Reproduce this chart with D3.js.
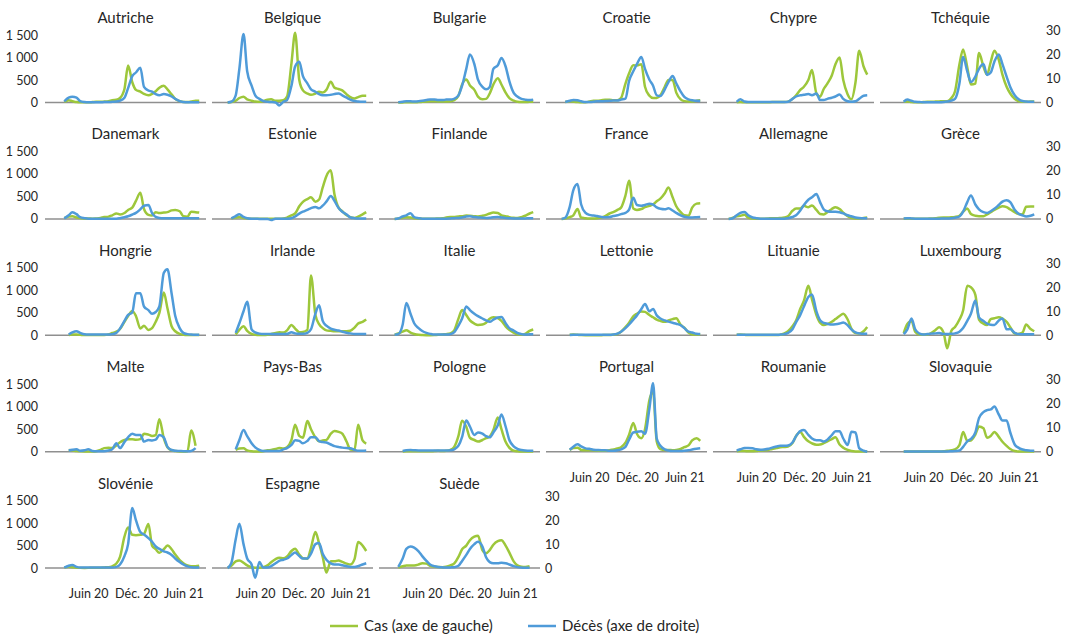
<!DOCTYPE html>
<html lang="fr">
<head>
<meta charset="utf-8">
<script src="https://cdn.jsdelivr.net/npm/d3@7"></script>
<style>
  html, body { margin: 0; padding: 0; background: #fff; }
  svg { display: block; font-family: Lato, "Noto Sans", sans-serif; }
</style>
</head>
<body>
<svg id="chart" width="1069" height="636"></svg>
<script>
// Semi-monthly observation dates (7-day averages, per million inhabitants)
const dates = ["2020-03-01","2020-03-15","2020-04-01","2020-04-15","2020-05-01","2020-05-15",
  "2020-06-01","2020-06-15","2020-07-01","2020-07-15","2020-08-01","2020-08-15",
  "2020-09-01","2020-09-15","2020-10-01","2020-10-15","2020-11-01","2020-11-15",
  "2020-12-01","2020-12-15","2021-01-01","2021-01-15","2021-02-01","2021-02-15",
  "2021-03-01","2021-03-15","2021-04-01","2021-04-15","2021-05-01","2021-05-15",
  "2021-06-01","2021-06-15","2021-07-01","2021-07-15","2021-08-01","2021-08-15"];

const casTicks = [0, 500, 1000, 1500];
const casTickLabels = ["0", "500", "1 000", "1 500"];
const decesTicks = [0, 10, 20, 30];
const decesTickLabels = ["0", "10", "20", "30"];
const xTickDates = ["2020-06-15", "2020-12-15", "2021-06-15"];
const xTickLabels = ["Juin 20", "Déc. 20", "Juin 21"];
const legendLabels = ["Cas (axe de gauche)", "Décès (axe de droite)"];

// Cases (left axis) and deaths (right axis) per country
const autricheCas = [null,10,50,30,10,5,5,5,10,15,15,20,30,50,60,100,300,820,450,280,240,190,160,190,250,330,370,290,180,80,30,10,10,20,40,40];
const autricheDeces = [null,0.5,2,2.4,2,0.6,0.2,0.1,0.1,0.1,0.1,0.2,0.2,0.3,0.4,0.8,2,6,11,12.5,14.5,6.5,5,4.5,3.5,3,3.5,3.2,2.5,1.5,0.6,0.2,0.1,0.1,0.1,0.1];
const belgiqueCas = [0,10,40,100,130,70,40,20,15,30,60,70,40,40,50,130,870,1550,500,270,200,170,200,240,220,280,460,330,300,270,180,120,90,120,150,150];
const belgiqueDeces = [0,0.3,3,14,28.5,13,7,3,1.5,0.7,0.3,0.2,0,-1.2,0.3,1,7,15,17,11,8,5.5,4.5,3.5,3,3,3.2,3.5,3.8,3,2,1.2,0.6,0.4,0.3,0.3];
const bulgarieCas = [null,0,2,5,5,5,10,15,20,30,30,20,20,20,25,50,150,400,510,380,280,130,70,80,200,400,540,400,220,100,40,15,10,10,15,15];
const bulgarieDeces = [null,0.1,0.3,0.5,0.5,0.4,0.5,0.7,1,1.3,1.3,1,1,1.2,1.2,1.5,3,7,14,20,16,9.5,6.5,5.5,6.5,14,15.5,18.5,15,9,4,2.5,1.5,1.2,1,1.2];
const croatieCas = [null,10,30,20,10,5,5,20,40,40,50,60,60,50,50,100,420,650,830,820,850,350,150,100,100,160,350,500,500,220,70,30,20,20,40,50];
const croatieDeces = [null,0.2,0.7,1,0.9,0.5,0.2,0.2,0.3,0.5,0.5,0.6,0.7,0.8,0.8,1.2,1.6,9,13,16,19,14,9.5,7,3,2.7,5.5,8.5,11,8,4.5,2.3,1.3,0.9,0.7,0.6];
const chypreCas = [null,null,5,10,5,3,3,3,3,3,5,10,10,10,10,20,80,160,280,350,500,720,200,130,300,420,600,850,1000,500,180,70,450,1150,800,620];
const chypreDeces = [null,null,0.3,1.4,0.4,0.2,0.2,0.2,0.2,0.2,0.2,0.2,0.2,0.2,0.2,0.3,1.5,2.5,3,3.2,3.5,3,3.8,1,1,1.5,2,2.5,3.3,1.5,0.5,0.3,0.5,1.5,2.8,3];
const tchequieCas = [null,null,15,25,10,5,5,10,15,15,20,25,30,30,100,250,850,1180,780,400,420,1100,800,620,900,1150,950,620,350,200,80,30,15,15,20,20];
const tchequieDeces = [null,null,0.3,1.2,0.7,0.3,0.2,0.1,0.1,0.1,0.1,0.1,0.2,0.4,0.8,1.5,8,19,13,8.5,10.8,14,16,11.5,12.5,17,20,16,10.8,6.5,3,1.5,0.6,0.4,0.3,0.3];
const danemarkCas = [null,20,50,60,30,20,10,10,5,10,20,40,50,80,120,100,130,200,250,400,580,220,90,75,150,130,140,150,190,200,170,60,50,160,150,140];
const danemarkDeces = [null,0.2,1.5,2.8,2,0.7,0.3,0.1,0.1,0.1,0.1,0.1,0.1,0.1,0.1,0.3,0.7,1.1,1.8,2.5,4,5.5,5.8,2.4,0.8,0.4,0.3,0.3,0.3,0.3,0.3,0.3,0.3,0.3,0.3,0.3];
const estonieCas = [null,10,30,40,20,10,5,5,5,5,5,5,5,5,10,30,80,120,280,380,440,480,380,430,700,950,1080,550,250,170,80,40,20,50,100,150];
const estonieDeces = [null,0.2,1.2,1.9,0.8,0.3,0.1,0.1,0,0,0,-0.5,0.1,0.1,0.1,0.1,0.3,1,2.2,3,3.8,4.5,5,4.4,5.5,7.2,9.5,7.5,4.5,3,1.8,0.6,0.3,0.2,0.2,0.2];
const finlandeCas = [0,10,25,35,30,15,10,5,3,3,5,10,15,30,40,45,55,60,75,70,60,55,70,90,120,140,130,80,60,40,25,20,40,70,120,150];
const finlandeDeces = [0,0.2,1,1.5,2.4,0.7,0.3,0.1,0.1,0.1,0.1,0.1,0.1,0.1,0.2,0.3,0.4,0.6,1,1.1,0.8,0.6,0.5,0.4,0.5,0.7,0.8,0.6,0.4,0.3,0.2,0.2,0.2,0.2,0.3,0.3];
const franceCas = [0,10,40,80,220,30,15,10,10,15,30,60,120,150,200,250,520,850,230,200,220,260,290,320,390,450,570,700,480,280,150,80,70,250,340,350];
const franceDeces = [0,0.5,5,12,14.5,6,2.5,1.7,1.4,1.2,0.8,0.7,0.8,1.2,1.5,2,2.5,3.9,8.8,5.8,5.5,5.8,6.3,6,4.8,4.2,4,4.4,3.5,2.5,1.5,0.9,0.6,0.6,0.7,0.8];
const allemagneCas = [0,20,60,70,90,30,8,5,5,6,10,15,15,20,30,60,180,230,230,290,260,300,200,110,100,150,220,260,220,140,60,20,10,10,20,30];
const allemagneDeces = [0,0.2,1.5,2.5,2.9,1.5,0.6,0.3,0.1,0.1,0.1,0.1,0.1,0.1,0.1,0.3,0.8,1.5,3.5,5.8,8,9,10.4,7,4,3.2,3,3,2.8,2.3,1.5,1.1,0.6,0.4,0.3,0.3];
const greceCas = [null,null,5,8,5,3,3,3,5,10,15,25,30,30,35,45,70,160,230,110,70,60,60,100,150,200,250,280,260,210,150,110,100,270,275,275];
const greceDeces = [null,null,0.2,0.3,0.2,0.1,0.1,0.1,0.1,0.1,0.1,0.1,0.2,0.2,0.3,0.5,1,3,7,9.8,6,4,2.8,2.5,3.2,4.2,5.8,7.2,7.8,7,3.8,2.3,1.5,1,1.3,1.9];
const hongrieCas = [null,null,5,15,15,10,5,5,5,5,5,5,20,50,80,140,300,430,540,430,150,210,120,160,300,500,950,600,200,90,30,10,5,5,5,5];
const hongrieDeces = [null,null,0.3,1.2,1.7,1,0.4,0.3,0.3,0.3,0.3,0.3,0.3,0.5,1,2.8,6,8.5,9.5,17.5,17.5,12,10.5,9,9.7,12,26,27.5,17.4,8,3,1,0.5,0.3,0.2,0.2];
const irlandeCas = [null,null,20,120,200,100,30,10,5,5,10,30,50,70,60,110,230,150,70,75,120,1330,450,250,160,110,100,90,90,90,90,100,170,260,300,350];
const irlandeDeces = [null,null,1,5,10,14,2.5,1.2,0.7,0.5,0.5,0.5,0.5,0.5,0.5,0.6,1.3,0.8,0.6,0.6,1,2.5,9,12.5,6,4,2.8,2.3,2,1.5,1.1,0.8,0.5,0.5,0.5,0.5];
const italieCas = [10,40,80,110,60,30,10,5,3,3,5,10,20,25,40,100,370,560,450,330,260,230,240,280,370,400,380,320,200,120,60,25,15,30,100,130];
const italieDeces = [0.2,0.5,4.5,13.5,9,5,3,1.8,1,0.6,0.3,0.3,0.3,0.3,0.5,1.2,4,7,12,10.5,9,8,7,6.2,5.6,6.5,7.4,7.6,5,3,2,1,0.5,0.3,0.4,0.4];
const lettonieCas = [null,null,10,15,10,5,3,3,3,3,3,5,5,15,30,80,180,280,420,480,530,520,450,400,350,320,300,330,360,380,230,170,60,20,20,20];
const lettonieDeces = [null,null,0.1,0.2,0.2,0.2,0.2,0.2,0.2,0.2,0.2,0.2,0.2,0.3,0.7,1.5,3,4.5,6.5,8.3,11,13,10,11,8.3,7,6.2,5.7,5.2,4.8,4.2,3,1.5,1.2,0.6,0.5];
const lituanieCas = [null,null,10,15,10,5,5,5,5,5,5,5,5,10,40,90,200,330,590,770,1100,800,450,280,230,250,300,360,430,480,350,150,50,40,90,185];
const lituanieDeces = [null,null,0.2,0.2,0.2,0.2,0.2,0.2,0.2,0.2,0.2,0.2,0.2,0.3,0.5,1,2.5,5.5,8.5,12,16,17,10,6.3,5.2,4.8,4.5,4.6,4.9,5.3,4.2,2.5,1.2,0.8,0.6,0.6];
const luxembourgCas = [null,null,50,250,320,80,15,20,20,50,120,180,60,-290,100,185,350,550,1100,1070,900,350,260,230,360,380,400,370,300,180,40,30,60,240,140,90];
const luxembourgDeces = [null,null,0.5,2.5,7,2.5,0.7,0.3,0.5,0.7,0.8,1,0.5,0.5,0.6,0.8,1.5,3,6,9,14.5,7.5,6,4.9,4.4,4.3,6.2,7,2.5,2.6,1,0.5,0.4,0.4,0.4,0.4];
const malteCas = [null,null,40,30,15,10,5,5,5,10,40,80,90,80,140,210,260,275,275,265,280,400,380,350,370,720,300,100,30,15,5,5,10,470,130,null];
const malteDeces = [null,null,0.5,0.8,1,0.4,0.6,1,0.3,0.2,0.2,0.2,0.5,1,3.5,1.5,4,6,7.5,7,7,4.2,4.9,4.7,5,7,6,2,0.7,0.4,0.3,0.2,0.2,0.3,1.5,null];
const paysBasCas = [null,null,40,70,75,30,10,5,5,10,30,40,60,80,70,100,260,600,350,310,680,500,320,230,250,260,400,460,440,400,220,50,40,600,250,180];
const paysBasDeces = [null,null,1,4.9,9,6.5,3.5,1.8,0.7,0.3,0.3,0.3,0.3,0.3,1,1.5,2.8,4.8,4.5,3.5,4.5,6,6,4.4,4,3.8,3,2.3,2,1.7,1.5,1.4,0.8,0.4,0.4,0.5];
const pologneCas = [null,null,5,10,10,10,10,10,8,8,15,20,15,20,40,100,350,690,555,310,260,225,260,300,335,480,760,500,220,90,20,10,5,5,5,5];
const pologneDeces = [null,null,0.3,0.6,0.7,0.6,0.5,0.5,0.5,0.5,0.5,0.5,0.5,0.5,0.6,1,2.5,6.2,13,10.5,7,8,7.5,6.5,6,8,11,15.5,10.5,5,2.2,1.2,0.7,0.5,0.4,0.4];
const portugalCas = [null,null,40,80,90,40,30,35,30,25,20,20,30,50,70,100,200,380,640,400,300,500,1150,1340,230,60,40,40,35,40,60,100,140,250,300,240];
const portugalDeces = [null,null,0.8,2.1,3.1,2.2,1.4,1.2,0.8,0.7,0.6,0.6,0.4,0.4,0.6,1,2,5,8,8.3,8.5,7.5,18,28.5,5.5,2.5,1,0.5,0.3,0.3,0.3,0.4,0.6,0.9,1.2,1.4];
const roumanieCas = [null,null,10,15,15,10,12,15,25,30,40,60,80,100,105,115,190,350,440,330,230,185,155,160,190,230,280,320,160,90,40,15,5,5,5,5];
const roumanieDeces = [null,null,0.5,1,1.5,1.5,1.4,1,0.8,0.9,1.2,1.7,2.2,2.5,2.5,2.6,3.8,6.5,8.6,9,7,5.5,4.8,4.8,4.2,5,6.9,8.5,8.5,5.5,2.8,8.3,8,1.5,0.4,0];
const slovaquieCas = [null,null,5,5,5,5,5,5,5,5,5,5,10,20,30,50,150,440,240,250,380,560,520,310,350,440,330,220,130,60,15,5,3,3,3,3];
const slovaquieDeces = [null,null,0.1,0.1,0.1,0.1,0.1,0.1,0.1,0.1,0.1,0.1,0.1,0.1,0.2,0.3,0.5,2,4.3,5.3,8,14,16.5,17.3,17.6,18.8,15.5,13,13,8,3,1.7,0.9,0.6,0.4,0.4];
const slovenieCas = [null,10,30,20,10,5,3,5,10,10,10,15,20,40,100,250,700,900,740,730,740,760,980,500,420,340,420,500,420,300,180,110,60,40,40,50];
const slovenieDeces = [null,0.2,1,1.3,0.5,0.2,0.2,0.2,0.2,0.2,0.2,0.2,0.2,0.2,0.5,1.5,5,10,25,20,15,14,12.5,11,9,8,7,6.5,5.5,4,2.5,1.5,0.7,0.4,0.3,0.3];
const espagneCas = [10,50,150,170,120,60,20,10,10,20,60,130,200,230,220,260,380,430,300,220,210,450,800,550,250,-100,150,150,170,140,100,80,200,580,500,380];
const espagneDeces = [0,2,12,18.5,10,4,1.5,-4,2.5,0.3,0.3,0.8,2,3,3.5,4,5.5,6.5,5,4,4,6,10,10.5,6,3.5,2,1.5,1.5,1.2,0.8,0.5,0.5,0.8,1.5,2];
const suedeCas = [null,10,40,60,60,60,80,110,100,50,30,25,20,30,60,100,250,420,500,620,700,720,400,330,400,520,600,620,500,350,150,60,30,25,40,null];
const suedeDeces = [null,0.5,4,8,9,8.5,7,5,3,1.5,0.8,0.5,0.3,0.2,0.3,0.4,1,3,5.5,8,10,11,9,4.5,2.5,2,2,2.2,2,1.5,0.8,0.4,0.2,0.1,0.1,null];

// One row per small multiple, in reading order
const panels = [
  ["Autriche", autricheCas, autricheDeces], ["Belgique", belgiqueCas, belgiqueDeces],
  ["Bulgarie", bulgarieCas, bulgarieDeces], ["Croatie", croatieCas, croatieDeces],
  ["Chypre", chypreCas, chypreDeces], ["Tchéquie", tchequieCas, tchequieDeces],
  ["Danemark", danemarkCas, danemarkDeces], ["Estonie", estonieCas, estonieDeces],
  ["Finlande", finlandeCas, finlandeDeces], ["France", franceCas, franceDeces],
  ["Allemagne", allemagneCas, allemagneDeces], ["Grèce", greceCas, greceDeces],
  ["Hongrie", hongrieCas, hongrieDeces], ["Irlande", irlandeCas, irlandeDeces],
  ["Italie", italieCas, italieDeces], ["Lettonie", lettonieCas, lettonieDeces],
  ["Lituanie", lituanieCas, lituanieDeces], ["Luxembourg", luxembourgCas, luxembourgDeces],
  ["Malte", malteCas, malteDeces], ["Pays-Bas", paysBasCas, paysBasDeces],
  ["Pologne", pologneCas, pologneDeces], ["Portugal", portugalCas, portugalDeces],
  ["Roumanie", roumanieCas, roumanieDeces], ["Slovaquie", slovaquieCas, slovaquieDeces],
  ["Slovénie", slovenieCas, slovenieDeces], ["Espagne", espagneCas, espagneDeces],
  ["Suède", suedeCas, suedeDeces]
];

// Layout
const NCOL = 6;
const PW = 161, PH = 72;
const COL0 = 45, COLSTEP = 167;
const ROW0 = 30.5, ROWSTEP = 116.4;
const CAS_COLOR = "#9dc73b";
const DECES_COLOR = "#4f9bd9";
const TEXT_COLOR = "#262626";

const parseDate = d3.timeParse("%Y-%m-%d");
const dateObjs = dates.map(parseDate);

const svg = d3.select("#chart");

const x = d3.scaleTime()
  .domain([parseDate("2020-01-01"), parseDate("2021-09-10")])
  .range([0, PW]);
const yCas = d3.scaleLinear().domain([0, 1600]).range([PH, 0]);
const yDeces = d3.scaleLinear().domain([0, 30]).range([PH, 0]);

const lineFor = y => d3.line()
  .defined(d => d[1] !== null)
  .x(d => x(d[0]))
  .y(d => y(d[1]))
  .curve(d3.curveMonotoneX);
const lineCas = lineFor(yCas);
const lineDeces = lineFor(yDeces);

function styleAxis(sel, size) {
  sel.attr("font-family", null).attr("font-size", null);
  sel.select(".domain").remove();
  sel.selectAll("text").attr("fill", TEXT_COLOR).style("font-size", size + "px");
}

panels.forEach(([name, cas, deces], i) => {
  const col = i % NCOL, row = Math.floor(i / NCOL);
  const g = svg.append("g")
    .attr("transform", `translate(${COL0 + col * COLSTEP},${ROW0 + row * ROWSTEP})`);

  g.append("text")
    .attr("x", PW / 2).attr("y", -7.5)
    .attr("text-anchor", "middle")
    .attr("fill", TEXT_COLOR)
    .style("font-size", "15px")
    .text(name);

  g.append("line")
    .attr("x1", 0).attr("x2", PW)
    .attr("y1", yCas(0)).attr("y2", yCas(0))
    .attr("stroke", "#8f8f8f").attr("stroke-width", 1.5);

  g.append("path")
    .datum(dateObjs.map((d, k) => [d, cas[k]]))
    .attr("d", lineCas)
    .attr("fill", "none").attr("stroke", CAS_COLOR)
    .attr("stroke-width", 2.5).attr("stroke-linejoin", "round");

  g.append("path")
    .datum(dateObjs.map((d, k) => [d, deces[k]]))
    .attr("d", lineDeces)
    .attr("fill", "none").attr("stroke", DECES_COLOR)
    .attr("stroke-width", 2.5).attr("stroke-linejoin", "round");

  if (col === 0) {
    g.append("g")
      .call(d3.axisLeft(yCas).tickValues(casTicks)
        .tickFormat((d, j) => casTickLabels[j]).tickSize(0).tickPadding(7))
      .call(s => styleAxis(s, 12.5));
  }
  if (col === NCOL - 1 || i === panels.length - 1) {
    g.append("g")
      .attr("transform", `translate(${PW},0)`)
      .call(d3.axisRight(yDeces).tickValues(decesTicks)
        .tickFormat((d, j) => decesTickLabels[j]).tickSize(0).tickPadding(5))
      .call(s => styleAxis(s, 12.5));
  }
  if (i + NCOL >= panels.length) {
    g.append("g")
      .attr("transform", `translate(0,${PH})`)
      .call(d3.axisBottom(x).tickValues(xTickDates.map(parseDate))
        .tickFormat((d, j) => xTickLabels[j]).tickSize(0).tickPadding(21))
      .call(s => styleAxis(s, 12.5));
  }
});

// Legend
const legend = svg.append("g").attr("transform", "translate(330,626)");
const legendColors = [CAS_COLOR, DECES_COLOR];
const legendX = [0, 198];
legendLabels.forEach((lab, k) => {
  const lg = legend.append("g").attr("transform", `translate(${legendX[k]},0)`);
  lg.append("line").attr("x1", 0).attr("x2", 28).attr("y1", 0).attr("y2", 0)
    .attr("stroke", legendColors[k]).attr("stroke-width", 2.5);
  lg.append("text").attr("x", 34).attr("y", 5)
    .attr("fill", TEXT_COLOR).style("font-size", "15px").text(lab);
});
</script>
</body>
</html>
